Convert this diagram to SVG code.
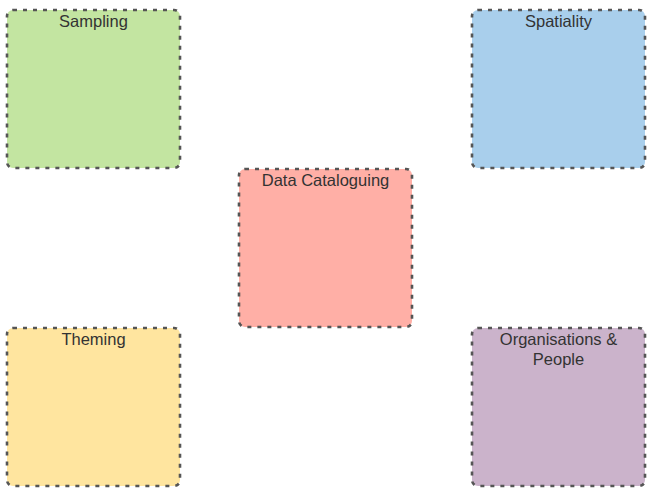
<svg xmlns="http://www.w3.org/2000/svg" width="658" height="498" viewBox="0 0 658 498">
<style>
.box{stroke:#555555;stroke-width:2.6;stroke-dasharray:4 6;}
.lbl{font-family:"Liberation Sans",Arial,sans-serif;font-size:16.5px;fill:#333333;text-anchor:middle;}
</style>
<rect width="658" height="498" fill="#ffffff"/>
<g id="sampling"><rect class="box" x="7" y="10" width="173" height="158" rx="6" fill="#c3e5a1"/><text class="lbl" x="93.5" y="27">Sampling</text></g>
<g id="spatiality"><rect class="box" x="472" y="10" width="173" height="158" rx="6" fill="#a9cfec"/><text class="lbl" x="558.5" y="27">Spatiality</text></g>
<g id="data-cataloguing"><rect class="box" x="239" y="169" width="173" height="158" rx="6" fill="#ffafa6"/><text class="lbl" x="325.5" y="186">Data Cataloguing</text></g>
<g id="theming"><rect class="box" x="7" y="328" width="173" height="158" rx="6" fill="#ffe59f"/><text class="lbl" x="93.5" y="345">Theming</text></g>
<g id="organisations"><rect class="box" x="472" y="328" width="173" height="158" rx="6" fill="#cbb3cb"/><text class="lbl" x="558.5" y="345">Organisations &amp;</text><text class="lbl" x="558.5" y="365">People</text></g>
<g id="connectors"></g>
</svg>
